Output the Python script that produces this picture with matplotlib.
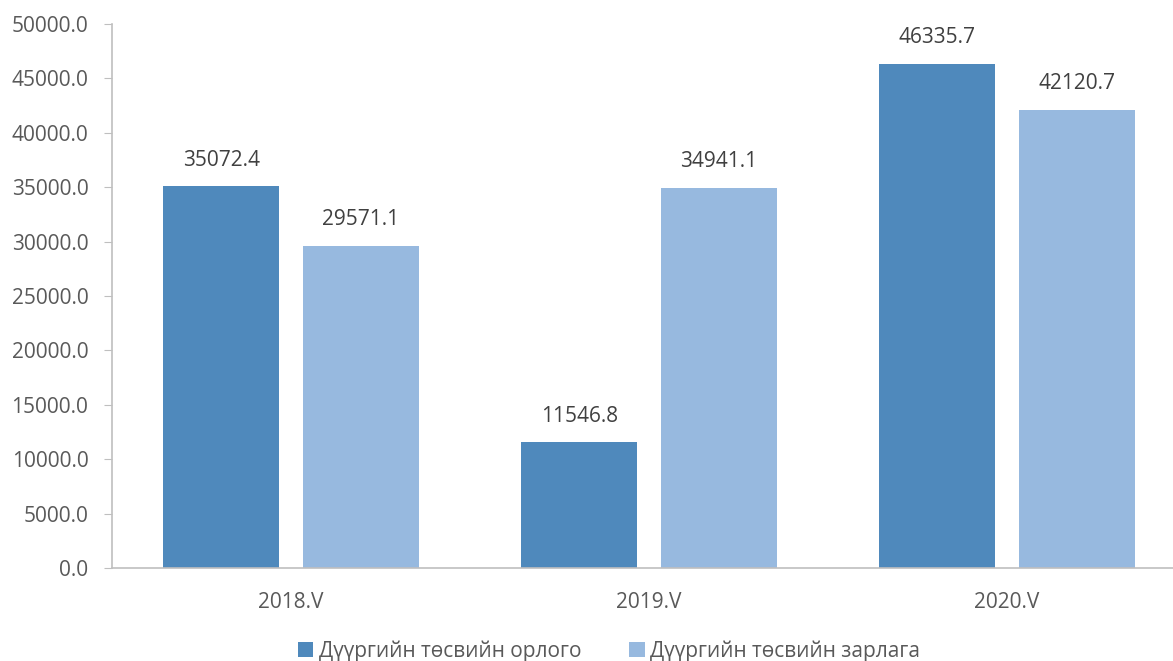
import matplotlib
matplotlib.use("Agg")
import matplotlib.pyplot as plt
import numpy as np

categories = ["2018.V", "2019.V", "2020.V"]
income = [35072.4, 11546.8, 46335.7]
expense = [29571.1, 34941.1, 42120.7]
series_names = ["Дүүргийн төсвийн орлого", "Дүүргийн төсвийн зарлага"]
yticks = np.arange(0, 50001, 5000)

plt.rcParams['font.family'] = ['Open Sans', 'DejaVu Sans']

W, H = 1173, 661
fig = plt.figure(figsize=(W/100, H/100), dpi=100)
left = 112/W
right_px = 112 + 3*358
ax = fig.add_axes([left, (H-568)/H, (right_px-112)/W, (568-24)/H])

x = np.arange(len(categories))
bw = 0.324
off = 0.195
c1, c2 = "#4F89BC", "#97B9DF"
b1 = ax.bar(x - off, income, bw, color=c1, label=series_names[0])
b2 = ax.bar(x + off, expense, bw, color=c2, label=series_names[1])

for bars, vals in ((b1, income), (b2, expense)):
    for r, v in zip(bars, vals):
        ax.text(r.get_x() + r.get_width()/2, v + 1450, f"{v:.1f}",
                ha="center", va="bottom", fontsize=15, color="#404040")

ax.set_xlim(-0.5, 2.5)
ax.set_ylim(0, 50000)
ax.set_yticks(yticks)
ax.set_yticklabels([f"{v:.1f}" for v in yticks])
ax.set_xticks(x)
ax.set_xticklabels(categories)
ax.tick_params(axis='y', length=6, color="#BFBFBF", labelsize=15, labelcolor="#595959", pad=11)
ax.tick_params(axis='x', length=0, labelsize=15, labelcolor="#595959", pad=17)
for s in ("top", "right"):
    ax.spines[s].set_visible(False)
for s in ("left", "bottom"):
    ax.spines[s].set_color("#BFBFBF")
    ax.spines[s].set_linewidth(1.2)

fig.legend(handles=[b1, b2], loc="lower center", bbox_to_anchor=(0.519, -0.03), ncol=2,
           frameon=False, fontsize=15, handlelength=0.75, handleheight=0.75,
           handletextpad=0.25, columnspacing=2.3, labelcolor="#595959")

fig.savefig("out.png", dpi=100)
